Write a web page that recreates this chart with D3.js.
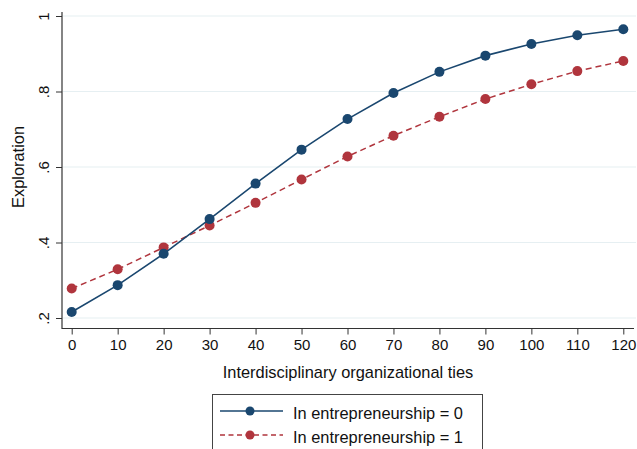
<!DOCTYPE html>
<html>
<head>
<meta charset="utf-8">
<script src="https://cdn.jsdelivr.net/npm/d3@7"></script>
<style>
  body { margin: 0; background: #fff; }
  svg { display: block; font-family: "Liberation Sans", Arial, sans-serif; }
</style>
</head>
<body>
<div id="chart"></div>
<script>
const ties = [0, 10, 20, 30, 40, 50, 60, 70, 80, 90, 100, 110, 120];
const entrep0 = [0.216, 0.287, 0.370, 0.462, 0.556, 0.646, 0.727, 0.796, 0.852, 0.895, 0.926, 0.949, 0.965];
const entrep1 = [0.278, 0.329, 0.387, 0.445, 0.505, 0.567, 0.628, 0.683, 0.733, 0.780, 0.819, 0.854, 0.881];
const yTicks = [0.2, 0.4, 0.6, 0.8, 1];
const yTickLabels = [".2", ".4", ".6", ".8", "1"];
const seriesNames = ["In entrepreneurship = 0", "In entrepreneurship = 1"];

const width = 637, height = 449;
const navy = "#1a476f", maroon = "#b0353d";

const svg = d3.select("#chart").append("svg")
  .attr("width", width)
  .attr("height", height);

const x = d3.scaleLinear().domain([0, 120]).range([71.7, 623.3]);
const y = d3.scaleLinear().domain([0.2, 1]).range([318, 16]);

// gridlines
svg.append("g")
  .selectAll("line")
  .data(yTicks)
  .join("line")
  .attr("x1", 63).attr("x2", 636)
  .attr("y1", d => y(d)).attr("y2", d => y(d))
  .attr("stroke", "#e6eff2")
  .attr("stroke-width", 1.2);

// axes
const xAxis = svg.append("g")
  .attr("transform", "translate(0,328.5)")
  .call(d3.axisBottom(x).tickValues(ties).tickSize(6).tickPadding(5).tickSizeOuter(0));
xAxis.select(".domain").attr("d", "M62,0H634").attr("stroke", "#333").attr("stroke-width", 1.2);
xAxis.selectAll(".tick line").attr("stroke", "#333");
xAxis.selectAll(".tick text").attr("font-size", 15).attr("fill", "#111");

const yAxis = svg.append("g")
  .attr("transform", "translate(62,0)")
  .call(d3.axisLeft(y).tickValues(yTicks).tickFormat((d, i) => yTickLabels[i]).tickSize(6).tickSizeOuter(0));
yAxis.select(".domain").attr("d", "M0,12V329").attr("stroke", "#333").attr("stroke-width", 1.2);
yAxis.selectAll(".tick line").attr("stroke", "#333");
yAxis.selectAll(".tick text")
  .attr("font-size", 15).attr("fill", "#111")
  .attr("x", null)
  .attr("text-anchor", "middle")
  .attr("transform", "translate(-18,0) rotate(-90)")
  .attr("dy", "0.35em");

svg.append("text")
  .attr("transform", `translate(18,${(16 + 318) / 2}) rotate(-90)`)
  .attr("text-anchor", "middle")
  .attr("dy", "0.35em")
  .attr("font-size", 16.4)
  .attr("fill", "#111")
  .text("Exploration");

svg.append("text")
  .attr("x", 348)
  .attr("y", 372)
  .attr("dy", "0.35em")
  .attr("text-anchor", "middle")
  .attr("font-size", 16.4)
  .attr("fill", "#111")
  .text("Interdisciplinary organizational ties");

// series
const line = d3.line().x((d, i) => x(ties[i])).y(d => y(d));

svg.append("path")
  .datum(entrep1)
  .attr("d", line)
  .attr("fill", "none")
  .attr("stroke", maroon)
  .attr("stroke-width", 1.5)
  .attr("stroke-dasharray", "6,4");

svg.append("g")
  .selectAll("circle")
  .data(entrep1)
  .join("circle")
  .attr("cx", (d, i) => x(ties[i]))
  .attr("cy", d => y(d))
  .attr("r", 5)
  .attr("fill", maroon);

svg.append("path")
  .datum(entrep0)
  .attr("d", line)
  .attr("fill", "none")
  .attr("stroke", navy)
  .attr("stroke-width", 1.6);

svg.append("g")
  .selectAll("circle")
  .data(entrep0)
  .join("circle")
  .attr("cx", (d, i) => x(ties[i]))
  .attr("cy", d => y(d))
  .attr("r", 5)
  .attr("fill", navy);

// legend
const legend = svg.append("g");
legend.append("rect")
  .attr("x", 212.5).attr("y", 394.5)
  .attr("width", 270).attr("height", 70)
  .attr("fill", "#fff")
  .attr("stroke", "#444")
  .attr("stroke-width", 1);

const legendRows = [
  { name: seriesNames[0], color: navy, dash: null, ly: 411 },
  { name: seriesNames[1], color: maroon, dash: "5,3.5", ly: 435 }
];
legendRows.forEach(r => {
  legend.append("line")
    .attr("x1", 220).attr("x2", 283)
    .attr("y1", r.ly).attr("y2", r.ly)
    .attr("stroke", r.color)
    .attr("stroke-width", 1.5)
    .attr("stroke-dasharray", r.dash);
  legend.append("circle")
    .attr("cx", 250).attr("cy", r.ly).attr("r", 4.5)
    .attr("fill", r.color);
  legend.append("text")
    .attr("x", 293).attr("y", r.ly + 2)
    .attr("dy", "0.35em")
    .attr("font-size", 16.4)
    .attr("fill", "#111")
    .text(r.name);
});
</script>
</body>
</html>
